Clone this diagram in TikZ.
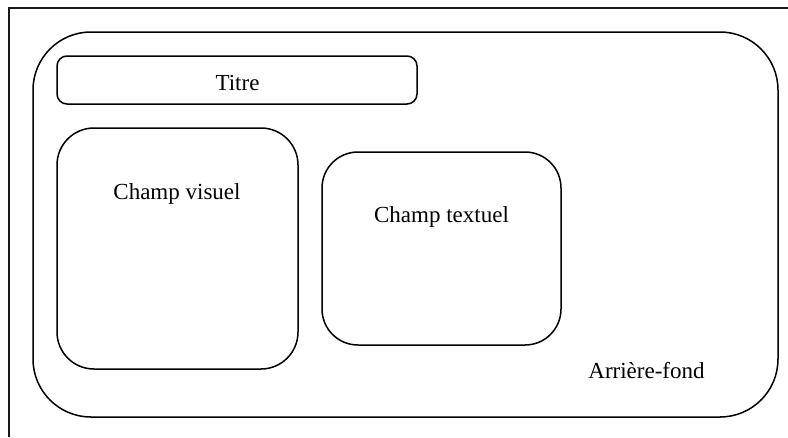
\documentclass[tikz,border=0pt]{standalone}
\usepackage{fontspec}
\setmainfont{Liberation Serif}
\tikzset{zone/.style = {shape = rectangle, draw, line width = 1.5pt, inner sep = 0pt}}
\tikzset{caption/.style = {anchor = base, inner sep = 0pt, font = \fontsize{23}{27}\selectfont}}
\tikzset{frame/.style = {draw = black!90, line width = 1.6pt}}

\begin{document}
\begin{tikzpicture}[x = 1pt, y = -1pt]
	\useasboundingbox (0, 0) rectangle (788, 437);
	\draw[frame] (788, 8) -- (9, 8) -- (9, 437);

	\node[zone, rounded corners = 58pt, minimum width = 745pt, minimum height = 385pt] (fond) at (405.5, 224.5) {};
	\node[zone, rounded corners = 10pt, minimum width = 360pt, minimum height = 48pt] (titre) at (237, 80) {};
	\node[zone, rounded corners = 37pt, minimum width = 241pt, minimum height = 241pt] (visuel) at (177.5, 248.5) {};
	\node[zone, rounded corners = 36pt, minimum width = 239pt, minimum height = 193pt] (textuel) at (441.5, 248.5) {};

	\node[caption] (titreText) at (237.5, 90) {Titre};
	\node[caption] (visuelText) at (177, 199) {Champ visuel};
	\node[caption] (textuelText) at (441.5, 222) {Champ textuel};
	\node[caption] (fondText) at (646.5, 378) {Arrière-fond};
\end{tikzpicture}
\end{document}
